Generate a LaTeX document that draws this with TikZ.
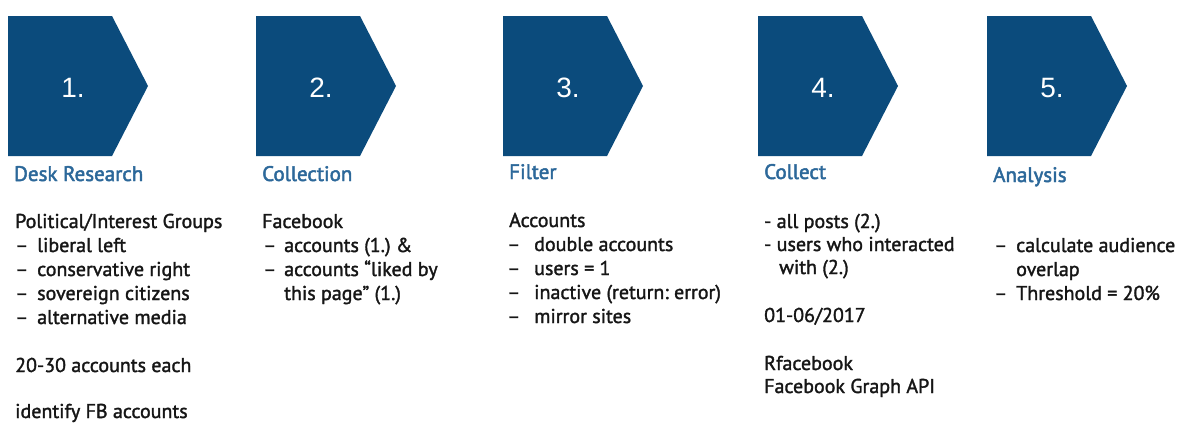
\documentclass[tikz,border=0pt]{standalone}
\usepackage{fontspec}
\setmainfont{PT Sans}
\newfontfamily\bodyfont{PT Sans}[FakeBold=1.6]
\newfontfamily\ttlfont{PT Sans}[FakeBold=2.2]
\newfontfamily\numfont{Liberation Sans}
\definecolor{chev}{RGB}{11,75,124}
\definecolor{ttl}{RGB}{44,104,154}
\definecolor{txt}{RGB}{22,22,22}
\frenchspacing
\begin{document}
\begin{tikzpicture}[x=1pt,y=-1pt,
  num/.style={text=white,font=\numfont\fontsize{28}{30}\selectfont,anchor=base,inner sep=0pt},
  ttl/.style={text=ttl,font=\ttlfont\fontsize{21}{24}\selectfont,anchor=base west,inner sep=0pt},
  body/.style={text=txt,font=\bodyfont\fontsize{20}{24}\selectfont\frenchspacing,anchor=base west,inner sep=0pt}]
\useasboundingbox (0,0) rectangle (1187,423);
\fill[white] (0,0) rectangle (1187,423);
% chevrons
\foreach \l/\n in {8/1,256/2,503/3,758/4,987/5}{
  \fill[chev] (\l,16) -- ++(104,0) -- ++(36,70) -- ++(-36,70) -- ++(-104,0) -- cycle;
  \node[num] (n\n) at (\l+65,97) {\n.};
}
% column 1
\node[ttl] (t1) at (14,181) {Desk Research};
\node[body] (a1) at (15,228) {Political/Interest Groups};
\node[body] (a2) at (15,252) {–};
\node[body] (a2t) at (37,252) {liberal left};
\node[body] (a3) at (15,276) {–};
\node[body] (a3t) at (37,276) {conservative right};
\node[body] (a4) at (15,300) {–};
\node[body] (a4t) at (37,300) {sovereign citizens};
\node[body] (a5) at (15,324) {–};
\node[body] (a5t) at (37,324) {alternative media};
\node[body] (a6) at (15,372) {20-30 accounts each};
\node[body] (a7) at (15,418) {identify FB accounts};
% column 2
\node[ttl] (t2) at (262,181) {Collection};
\node[body] (b1) at (262,228) {Facebook};
\node[body] (b2) at (263,252) {–};
\node[body] (b2t) at (284,252) {accounts (1.) \&};
\node[body] (b3) at (263,276) {–};
\node[body] (b3t) at (284,276) {accounts “liked by};
\node[body] (b4t) at (284,300) {this page” (1.)};
% column 3
\node[ttl] (t3) at (509,179) {Filter};
\node[body] (c1) at (509,227) {Accounts};
\node[body] (c2) at (507,251) {–};
\node[body] (c2t) at (534,251) {double accounts};
\node[body] (c3) at (507,275) {–};
\node[body] (c3t) at (534,275) {users = 1};
\node[body] (c4) at (507,299) {–};
\node[body] (c4t) at (534,299) {inactive (return: error)};
\node[body] (c5) at (507,323) {–};
\node[body] (c5t) at (534,323) {mirror sites};
% column 4
\node[ttl] (t4) at (764,179) {Collect};
\node[body] (d1) at (764,228) {- all posts (2.)};
\node[body] (d2) at (764,251) {- users who interacted};
\node[body] (d3) at (779,274) {with (2.)};
\node[body] (d4) at (764,322) {01-06/2017};
\node[body] (d5) at (764,370) {Rfacebook};
\node[body] (d6) at (764,393) {Facebook Graph API};
% column 5
\node[ttl] (t5) at (993,182) {Analysis};
\node[body] (e1) at (994,252) {–};
\node[body] (e1t) at (1016,252) {calculate audience};
\node[body] (e2t) at (1016,276) {overlap};
\node[body] (e3) at (994,300) {–};
\node[body] (e3t) at (1016,300) {Threshold = 20\%};
\end{tikzpicture}
\end{document}
